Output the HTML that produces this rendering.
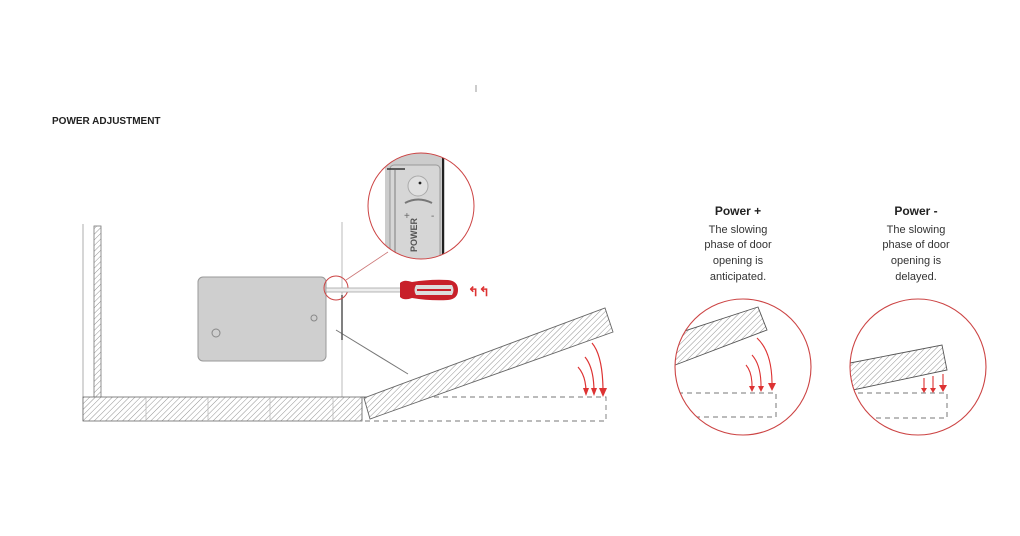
<!DOCTYPE html>
<html><head><style>
body{margin:0;background:#fff;}
svg{display:block;font-family:"Liberation Sans",sans-serif;}
</style></head><body>
<svg width="1020" height="536" viewBox="0 0 1020 536" xmlns="http://www.w3.org/2000/svg">
<defs>
<pattern id="h" width="4" height="4" patternUnits="userSpaceOnUse" patternTransform="rotate(45)">
<rect width="4" height="4" fill="#fff"/><line x1="0" y1="0" x2="0" y2="4" stroke="#777" stroke-width="0.8"/>
</pattern>
<clipPath id="c1"><circle cx="743" cy="367" r="68"/></clipPath>
<clipPath id="c2"><circle cx="918" cy="367" r="68"/></clipPath>
<clipPath id="cm"><circle cx="421" cy="206" r="53"/></clipPath>
</defs>
<rect width="1020" height="536" fill="#fff"/>
<line x1="476" y1="85" x2="476" y2="92" stroke="#999"/>
<text x="52" y="124" font-size="10" font-weight="bold" fill="#222">POWER ADJUSTMENT</text>

<line x1="83" y1="224" x2="83" y2="421" stroke="#999" stroke-width="0.8"/>
<rect x="94" y="226" width="7" height="184" fill="url(#h)" stroke="#777" stroke-width="0.8"/>
<line x1="342" y1="222" x2="342" y2="397" stroke="#aaa" stroke-width="0.8"/>
<rect x="83" y="397" width="279" height="24" fill="url(#h)" stroke="#666" stroke-width="0.8"/>
<g stroke="#bbb" stroke-width="0.8"><line x1="146" y1="397" x2="146" y2="421"/><line x1="208" y1="397" x2="208" y2="421"/><line x1="270" y1="397" x2="270" y2="421"/><line x1="333" y1="397" x2="333" y2="421"/></g>
<rect x="362" y="397" width="244" height="24" fill="none" stroke="#777" stroke-width="0.9" stroke-dasharray="5,4"/>
<polygon points="364,398 605,308 613,332 370,419" fill="url(#h)" stroke="#666" stroke-width="0.9"/>
<g fill="none" stroke="#d33" stroke-width="1.2">
<path d="M592,343 Q603,356 603,392"/><path d="M585,357 Q594,368 594,392"/><path d="M578,367 Q586,376 586,392"/>
</g>
<g fill="#d33"><polygon points="599,388 607,388 603,397"/><polygon points="591,388 597,388 594,396"/><polygon points="583,388 589,388 586,396"/></g>
<line x1="336" y1="330" x2="408" y2="374" stroke="#777" stroke-width="1"/>
<rect x="198" y="277" width="128" height="84" rx="5" fill="#cfcfcf" stroke="#999"/>
<circle cx="216" cy="333" r="4" fill="none" stroke="#888"/><circle cx="314" cy="318" r="3" fill="none" stroke="#888"/>
<line x1="342" y1="295" x2="342" y2="340" stroke="#555" stroke-width="1.5"/>
<circle cx="336" cy="288" r="12" fill="none" stroke="#c44" stroke-width="1"/>
<line x1="346" y1="280" x2="388" y2="252" stroke="#c77" stroke-width="0.8"/>
<rect x="326" y="288" width="76" height="4" fill="#eee" stroke="#999" stroke-width="0.7"/>
<path d="M400,283 Q404,279 412,282 Q430,279 448,280 Q458,281 458,290 Q458,299 448,300 Q430,301 412,298 Q404,301 400,297 Z" fill="#c8202a"/>
<path d="M416,285 L452,285 Q455,290 452,295 L416,295 Q413,290 416,285Z" fill="#ddd"/>
<line x1="417" y1="290" x2="451" y2="290" stroke="#c8202a" stroke-width="2"/>
<text x="468" y="296" font-size="13" fill="#d33" font-weight="bold">↰↰</text>
<circle cx="421" cy="206" r="53" fill="#fff"/>
<g clip-path="url(#cm)">
<rect x="385" y="150" width="60" height="120" fill="#ccc"/>
<rect x="390" y="165" width="50" height="100" rx="4" fill="#d6d6d6" stroke="#999"/>
<line x1="443" y1="150" x2="443" y2="262" stroke="#222" stroke-width="2"/>
<line x1="395" y1="170" x2="395" y2="262" stroke="#aaa" stroke-width="2"/>
<line x1="387" y1="169" x2="405" y2="169" stroke="#333" stroke-width="1.5"/>
<circle cx="418" cy="186" r="10" fill="#e0e0e0" stroke="#aaa"/><circle cx="420" cy="183" r="1.4" fill="#222"/>
<path d="M405,203 Q418,196 432,203" fill="none" stroke="#777" stroke-width="2"/>
<text x="0" y="0" font-size="9" font-weight="bold" fill="#555" transform="translate(417,252) rotate(-90)">POWER</text>
<text x="404" y="219" font-size="10" fill="#666">+</text><text x="431" y="219" font-size="10" fill="#666">-</text>
</g>
<circle cx="421" cy="206" r="53" fill="none" stroke="#c44" stroke-width="1"/>

<g text-anchor="middle" fill="#333">
<text x="738" y="215" font-size="12" font-weight="bold" fill="#222">Power  +</text>
<text x="738" y="233" font-size="11">The slowing</text>
<text x="738" y="248" font-size="11">phase of door</text>
<text x="738" y="264" font-size="11">opening is</text>
<text x="738" y="280" font-size="11">anticipated.</text>
<text x="916" y="215" font-size="12" font-weight="bold" fill="#222">Power  -</text>
<text x="916" y="233" font-size="11">The slowing</text>
<text x="916" y="248" font-size="11">phase of door</text>
<text x="916" y="264" font-size="11">opening is</text>
<text x="916" y="280" font-size="11">delayed.</text>
</g>
<g clip-path="url(#c1)">
<polygon points="660,339 758,307 767,330 662,370" fill="url(#h)" stroke="#555" stroke-width="0.9"/>
<path d="M660,393 L776,393 L776,417 L660,417" fill="none" stroke="#777" stroke-dasharray="5,4"/>
<g fill="none" stroke="#d33" stroke-width="1.1"><path d="M757,338 Q772,352 772,384"/><path d="M752,355 Q761,365 761,386"/><path d="M746,365 Q752,372 752,386"/></g>
<g fill="#d33"><polygon points="768,383 776,383 772,391"/><polygon points="758,386 764,386 761,392"/><polygon points="749,386 755,386 752,392"/></g>
</g>
<circle cx="743" cy="367" r="68" fill="none" stroke="#c44" stroke-width="1.1"/>
<g clip-path="url(#c2)">
<polygon points="845,364 942,345 947,370 848,391" fill="url(#h)" stroke="#555" stroke-width="0.9"/>
<path d="M840,393 L947,393 L947,418 L840,418" fill="none" stroke="#777" stroke-dasharray="5,4"/>
<g stroke="#d33" stroke-width="1.1"><line x1="924" y1="378" x2="924" y2="388"/><line x1="933" y1="376" x2="933" y2="388"/><line x1="943" y1="374" x2="943" y2="386"/></g>
<g fill="#d33"><polygon points="921,388 927,388 924,393"/><polygon points="930,388 936,388 933,393"/><polygon points="939,385 947,385 943,392"/></g>
</g>
<circle cx="918" cy="367" r="68" fill="none" stroke="#c44" stroke-width="1.1"/>
</svg>
</body></html>
